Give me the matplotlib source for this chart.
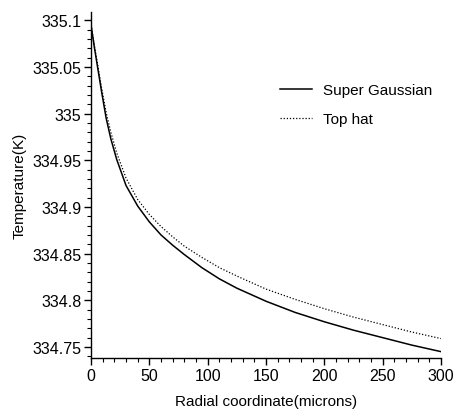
import matplotlib
matplotlib.use('Agg')
import matplotlib.pyplot as plt
from matplotlib.ticker import MultipleLocator, FuncFormatter

plt.rcParams['font.family'] = ['Liberation Sans', 'DejaVu Sans']

# radial coordinate (microns)
radius = [0, 3, 6, 9, 13, 17, 22, 30, 40, 50, 60, 70, 80, 95, 110, 125, 150,
          175, 200, 225, 250, 275, 300]
# temperature (K)
super_gaussian = [335.095, 335.070, 335.047, 335.024, 334.995, 334.973, 334.951,
                  334.923, 334.901, 334.884, 334.870, 334.859, 334.849, 334.835,
                  334.823, 334.813, 334.799, 334.787, 334.777, 334.768, 334.760,
                  334.752, 334.745]
top_hat = [335.095, 335.072, 335.050, 335.028, 335.001, 334.980, 334.958,
           334.931, 334.908, 334.892, 334.879, 334.868, 334.858, 334.846,
           334.835, 334.826, 334.812, 334.801, 334.791, 334.782, 334.774,
           334.766, 334.759]

fig = plt.figure(figsize=(4.53, 4.10), dpi=100)
ax = fig.add_axes([0.2009, 0.1244, 0.7726, 0.8436])

ax.plot(radius, super_gaussian, color='black', lw=1.1, label='Super Gaussian')
ax.plot(radius, top_hat, color='black', lw=0.9, ls=(0, (1, 1.5)), label='Top hat')

ax.set_xlim(0, 300)
ax.set_ylim(334.7382, 335.1087)

for s in ['top', 'right']:
    ax.spines[s].set_visible(False)
for s in ['left', 'bottom']:
    ax.spines[s].set_linewidth(1.0)

ax.xaxis.set_major_locator(MultipleLocator(50))
ax.xaxis.set_minor_locator(MultipleLocator(10))
ax.yaxis.set_major_locator(MultipleLocator(0.05))
ax.yaxis.set_minor_locator(MultipleLocator(0.01))
ax.yaxis.set_major_formatter(FuncFormatter(lambda v, p: f'{v:g}'))
ax.tick_params(which='major', direction='out', length=5, width=1, labelsize=11.5, pad=2)
ax.tick_params(which='minor', direction='out', length=3, width=0.8)

ax.set_xlabel('Radial coordinate(microns)', fontsize=11, labelpad=8)
ax.set_ylabel('Temperature(K)', fontsize=11, labelpad=4)

fig.legend(loc='upper left', bbox_to_anchor=(0.618, 0.795), frameon=False,
           fontsize=11, handlelength=2.1, handletextpad=0.7, labelspacing=1.0,
           borderpad=0, borderaxespad=0)

fig.savefig('out.png', dpi=100)
